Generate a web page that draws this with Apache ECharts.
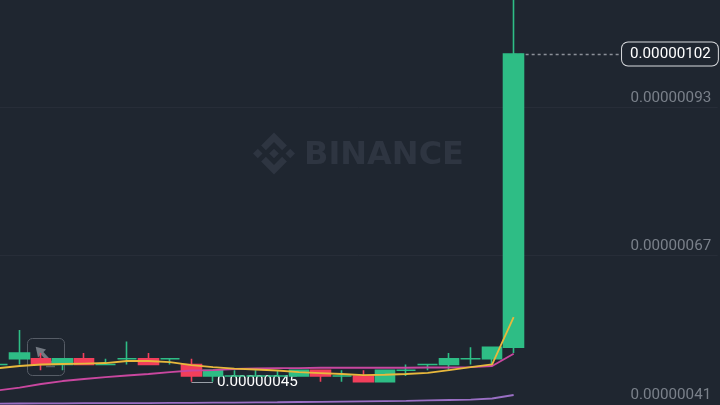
<!DOCTYPE html>
<html>
<head>
<meta charset="utf-8">
<style>html,body{margin:0;padding:0;background:#1f2630}#c{width:720px;height:405px}</style>
<script src="https://cdn.jsdelivr.net/npm/echarts@6/dist/echarts.min.js"></script>
</head>
<body>
<div id="c"></div>
<script>
// prices in units of 0.00000001
const opens  = [48,49,49,48,49,48,49,49,49,48,46,46,46,46,46,47,46,46,45,47,48,48,49,49,51];
const closes = [48,50,48,49,48,48,49,48,49,46,47,46,46,46,47,46,46,45,47,47,48,49,49,51,102];
const lows   = [48,48,47,47,48,48,48,48,48,45,45,46,46,46,46,45,45,45,45,46,47,47,48,48,50];
const highs  = [48,54,50,49,50,49,52,50,49,49,47,47,47,47,47,47,47,47,47,48,48,50,51,51,116];
const ma7  = [47.36,47.74,48.0,48.09,48.17,48.26,48.61,48.61,48.43,47.91,47.56,47.30,47.13,46.96,46.69,46.52,46.35,46.17,46.22,46.35,46.56,47.04,47.56,48.03,56.26];
const ma25 = [43.51,44.0,44.61,45.13,45.48,45.82,46.09,46.35,46.69,46.96,47.04,47.22,47.34,47.39,47.39,47.44,47.44,47.44,47.44,47.44,47.48,47.48,47.56,47.74,49.88];
const ma99 = [41.20,41.22,41.23,41.25,41.27,41.27,41.29,41.30,41.32,41.34,41.36,41.37,41.41,41.44,41.48,41.51,41.56,41.60,41.65,41.69,41.76,41.83,41.91,42.09,42.70];
const yTicks = [41,67,92.7];
const lastPrice = 102, lowPrice = 45;
const lowIndex = 9, lowEndIndex = 10, lastIndex = 24, tagIndex = 29;
const slotCount = 34;
const categories = Array.from({length: slotCount}, (_, i) => String(i));

const GREEN = '#2ebd85', RED = '#f23f5b', BG = '#1f2630', MARK = '#2e3541';
const fmt = v => (v * 1e-8).toFixed(8);
const candles = opens.map((o, i) => {
  const c = (closes[i] >= o) ? GREEN : RED;
  return {value: [o, closes[i], lows[i], highs[i]],
          itemStyle: {color: c, color0: c, borderColor: c, borderColor0: c, borderColorDoji: c}};
});
const logoParts = [
  [[38.73,53.2],[63.32,28.62],[87.92,53.22],[102.22,38.91],[63.32,0],[24.43,38.9]],
  [[0,63.31],[14.3,49],[28.61,63.31],[14.3,77.61]],
  [[38.73,73.41],[63.32,98],[87.92,73.4],[102.23,87.69],[63.33,126.6],[24.42,87.72]],
  [[98,63.31],[112.3,49],[126.61,63.3],[112.3,77.62]],
  [[77.83,63.3],[63.32,48.78],[48.81,63.28],[63.32,77.78]]
];

const maLine = (name, data, color, w) => ({
  name, type: 'line', data, symbol: 'none', smooth: false, z: 3,
  lineStyle: {color, width: w}, silent: true
});

const chart = echarts.init(document.getElementById('c'), null, {renderer: 'canvas'});
chart.setOption({
  animation: false,
  backgroundColor: BG,
  textStyle: {fontFamily: 'Roboto'},
  grid: {left: -12.6, top: 0, width: 730.3, height: 405, containLabel: false, outerBoundsMode: 'none'},
  xAxis: {type: 'category', data: categories, show: false, boundaryGap: true},
  yAxis: {
    type: 'value', position: 'right', min: 40.96, max: 111.39, scale: true,
    axisLine: {show: false},
    axisTick: {show: false, customValues: yTicks},
    axisLabel: {inside: true, margin: 6.5, customValues: yTicks, color: '#7a808a', fontSize: 15.2,
      fontFamily: 'Roboto', verticalAlign: 'bottom', padding: [0, 0, 2, 0], formatter: v => fmt(v)},
    splitLine: {show: true, lineStyle: {color: '#272d38', width: 1}}
  },
  graphic: [
    {type: 'group', x: 253, y: 132.5, scaleX: 0.3317, scaleY: 0.3317, z: 0,
     children: logoParts.map(p => ({type: 'polygon', z: 0, shape: {points: p}, style: {fill: MARK}}))},
    {type: 'text', z: 0, x: 304, y: 156, style: {text: 'BINANCE', font: '700 32px "DejaVu Sans"', fill: MARK,
     verticalAlign: 'middle', align: 'left'}},
    {type: 'rect', z: 1, shape: {x: 27.5, y: 338.5, width: 37, height: 37, r: 5},
     style: {fill: 'transparent', stroke: '#565c66', lineWidth: 1}},
    {type: 'polygon', z: 1, shape: {points: [[35.7, 346.7], [46, 349.5], [38, 357.5]]}, style: {fill: '#727881'}},
    {type: 'polyline', z: 1, shape: {points: [[40, 351], [52, 364]]}, style: {stroke: '#727881', lineWidth: 3.5, fill: 'none'}},
    {type: 'polyline', z: 1, shape: {points: [[46, 366.5], [55, 366.5]]}, style: {stroke: '#565c66', lineWidth: 1.5, fill: 'none'}}
  ],
  series: [
    {
      name: 'price', type: 'candlestick', data: candles, barWidth: 20, z: 2,
      itemStyle: {borderWidth: 1.6},
      markLine: {
        silent: true, symbol: 'none', z: 1, animation: false,
        data: [
          [{coord: [lastIndex, lastPrice], lineStyle: {color: '#8b9098', type: [3, 3], width: 1.3}},
           {coord: [tagIndex, lastPrice],
            label: {show: true, position: 'end', distance: 1, formatter: fmt(lastPrice), color: '#ffffff', fontSize: 15.2,
              fontFamily: 'Roboto', backgroundColor: BG, borderColor: '#d9dbde', borderWidth: 1, borderRadius: 6,
              padding: [4, 7, 4, 8], align: 'left', verticalAlign: 'middle'}}],
          [{coord: [lowIndex, lowPrice], lineStyle: {color: '#9aa0a8', type: 'solid', width: 1}},
           {coord: [lowEndIndex, lowPrice],
            label: {show: true, position: 'end', distance: 4, formatter: fmt(lowPrice), color: '#ffffff', fontSize: 15.2,
              fontFamily: 'Roboto', align: 'left', verticalAlign: 'middle'}}]
        ]
      }
    },
    maLine('MA99', ma99, '#9a6fc4', 1.8),
    maLine('MA25', ma25, '#c9479f', 1.8),
    maLine('MA7', ma7, '#e8b83c', 1.8)
  ]
});
</script>
</body>
</html>
